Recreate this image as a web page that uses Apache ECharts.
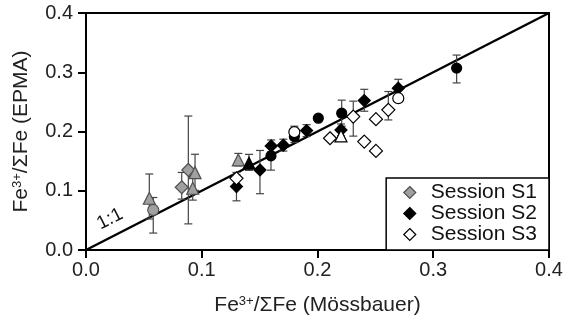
<!DOCTYPE html>
<html><head><meta charset="utf-8">
<script src="https://cdn.jsdelivr.net/npm/echarts@6/dist/echarts.min.js"></script>
<style>html,body{margin:0;padding:0;background:#fff}#c{width:566px;height:322px}</style>
</head><body><div id="c"></div>
<script>
// ---- data ----
const xTicks = ['0.0','0.1','0.2','0.3','0.4'];
const yTicks = ['0.0','0.1','0.2','0.3','0.4'];
const sessions = ['Session S1','Session S2','Session S3'];
// Session S1 (gray)
const s1X     = [0.0547, 0.0581, 0.0827, 0.0884, 0.0942, 0.0922, 0.1316];
const s1Y     = [0.0873, 0.0676, 0.1059, 0.1351, 0.1306, 0.1042, 0.1520];
const s1ErrLo = [0.035, 0.039, 0.020, 0.091, 0.030, 0.020, 0.010];
const s1ErrHi = [0.041, 0.021, 0.025, 0.091, 0.031, 0.020, 0.011];
const s1Shape = ['triangle','circle','diamond','diamond','triangle','triangle','triangle'];
// Session S2 (black)
const s2X     = [0.1300, 0.1408, 0.1503, 0.1598, 0.1600, 0.1705, 0.1800, 0.1906, 0.2007, 0.2209, 0.2203, 0.2404, 0.2698, 0.3202];
const s2Y     = [0.1070, 0.1464, 0.1350, 0.1588, 0.1757, 0.1770, 0.1914, 0.2015, 0.2225, 0.2309, 0.2027, 0.2522, 0.2731, 0.3070];
const s2ErrLo = [0.024, 0.012, 0.040, 0.024, 0.010, 0.010, 0.010, 0.010, 0.000, 0.022, 0.010, 0.018, 0.015, 0.025];
const s2ErrHi = [0.020, 0.015, 0.033, 0.015, 0.010, 0.010, 0.010, 0.010, 0.000, 0.022, 0.010, 0.019, 0.015, 0.022];
const s2Shape = ['diamond','triangle','diamond','circle','diamond','diamond','circle','diamond','circle','circle','diamond','diamond','diamond','circle'];
// Session S3 (white)
const s3X     = [0.1300, 0.1800, 0.2108, 0.2203, 0.2309, 0.2404, 0.2505, 0.2505, 0.2612, 0.2698];
const s3Y     = [0.1210, 0.1990, 0.1886, 0.1926, 0.2252, 0.1830, 0.1672, 0.2208, 0.2365, 0.2562];
const s3ErrLo = [0.010, 0.008, 0.000, 0.008, 0.033, 0.000, 0.000, 0.000, 0.017, 0.000];
const s3ErrHi = [0.010, 0.010, 0.000, 0.008, 0.026, 0.000, 0.000, 0.000, 0.031, 0.000];
const s3Shape = ['diamond','circle','diamond','triangle','diamond','diamond','diamond','diamond','diamond','circle'];
const oneToOne = [[0, 0], [0.4, 0.4]];

// ---- chart ----
const FONT = 'Liberation Sans';
const fills = ['#a0a0a0', '#000000', '#ffffff'];
const strokes = ['#505050', '#000000', '#000000'];
const sizes = {diamond: 13, circle: 11, triangle: 12};
const groups = [
  [s1X, s1Y, s1ErrLo, s1ErrHi, s1Shape],
  [s2X, s2Y, s2ErrLo, s2ErrHi, s2Shape],
  [s3X, s3Y, s3ErrLo, s3ErrHi, s3Shape]
];
const series = [];
series.push({type:'line', data: oneToOne, symbol:'none', silent:true,
  lineStyle:{color:'#000', width:2.4}, z:3});
groups.forEach((g, i) => {
  const [X, Y, Lo, Hi, Sh] = g;
  series.push({
    type:'custom', name: sessions[i], z: 4, silent:true,
    data: X.map((x, k) => [x, Y[k] - Lo[k], Y[k] + Hi[k]]),
    renderItem: function(params, api){
      const lo = api.coord([api.value(0), api.value(1)]);
      const hi = api.coord([api.value(0), api.value(2)]);
      if (Math.abs(lo[1]-hi[1]) < 1) return;
      const w = 4;
      const st = {stroke:'#444', lineWidth:1.2};
      return {type:'group', children:[
        {type:'line', shape:{x1:lo[0], y1:lo[1], x2:hi[0], y2:hi[1]}, style:st},
        {type:'line', shape:{x1:lo[0]-w, y1:lo[1], x2:lo[0]+w, y2:lo[1]}, style:st},
        {type:'line', shape:{x1:hi[0]-w, y1:hi[1], x2:hi[0]+w, y2:hi[1]}, style:st}
      ]};
    },
    encode:{x:0, y:[1,2]}
  });
  series.push({
    type:'scatter', name: sessions[i], z: 5, symbol:'diamond', symbolSize: 12,
    itemStyle:{color: fills[i], borderColor: strokes[i], borderWidth: 1.2, opacity:1},
    data: X.map((x, k) => ({value:[x, Y[k]], symbol: Sh[k], symbolSize: sizes[Sh[k]] - (i===1 && Sh[k]!=='triangle' ? 1 : 0)}))
  });
});

const chart = echarts.init(document.getElementById('c'), null, {renderer:'canvas'});
const axisCommon = {
  type:'value', min:0, max:0.4, interval:0.1,
  axisLine:{show:true, onZero:false, lineStyle:{color:'#000', width:2}},
  axisTick:{show:true, inside:false, length:8, lineStyle:{color:'#000', width:2}},
  splitLine:{show:false},
  nameLocation:'middle',
  nameTextStyle:{fontFamily:FONT, fontSize:21, color:'#222',
    rich:{b:{fontFamily:FONT, fontSize:21, color:'#222'},
          sup:{fontFamily:FONT, fontSize:13, color:'#222', verticalAlign:'top', lineHeight:21, padding:[0,0,9,0]}}}
};
chart.setOption({
  animation:false,
  grid:{left:86, right:17, top:13, bottom:72, show:true, borderColor:'#000', borderWidth:2},
  xAxis: Object.assign({}, axisCommon, {
    name:'{b|Fe}{sup|3+}{b|/ΣFe (Mössbauer)}', nameGap:45,
    axisLabel:{fontFamily:FONT, fontSize:20, color:'#222', margin:10,
      formatter:(v)=>xTicks[Math.round(v*10)]}
  }),
  yAxis: Object.assign({}, axisCommon, {
    name:'{b|Fe}{sup|3+}{b|/ΣFe (EPMA)}', nameGap:54,
    axisLabel:{fontFamily:FONT, fontSize:20, color:'#222', margin:13,
      formatter:(v)=>yTicks[Math.round(v*10)]}
  }),
  legend:{
    data: sessions.map((s,i)=>({name:s, icon:'diamond', itemStyle:{color:fills[i], borderColor:strokes[i], borderWidth:1.2}})),
    orient:'vertical', right:17, bottom:72, itemWidth:12, itemHeight:12, itemGap:0,
    backgroundColor:'#fff', borderColor:'#000', borderWidth:1.5, borderRadius:0,
    padding:[4, 12, 5, 17],
    textStyle:{fontFamily:FONT, fontSize:21, lineHeight:20, color:'#111', padding:[0,0,0,10]},
    selectedMode:false
  },
  graphic:[{type:'text', x:110, y:219, rotation: 27*Math.PI/180,
    style:{text:'1:1', fontFamily:FONT, fontSize:19, fill:'#111', align:'center', verticalAlign:'middle'}}],
  series: series
});
</script></body></html>
